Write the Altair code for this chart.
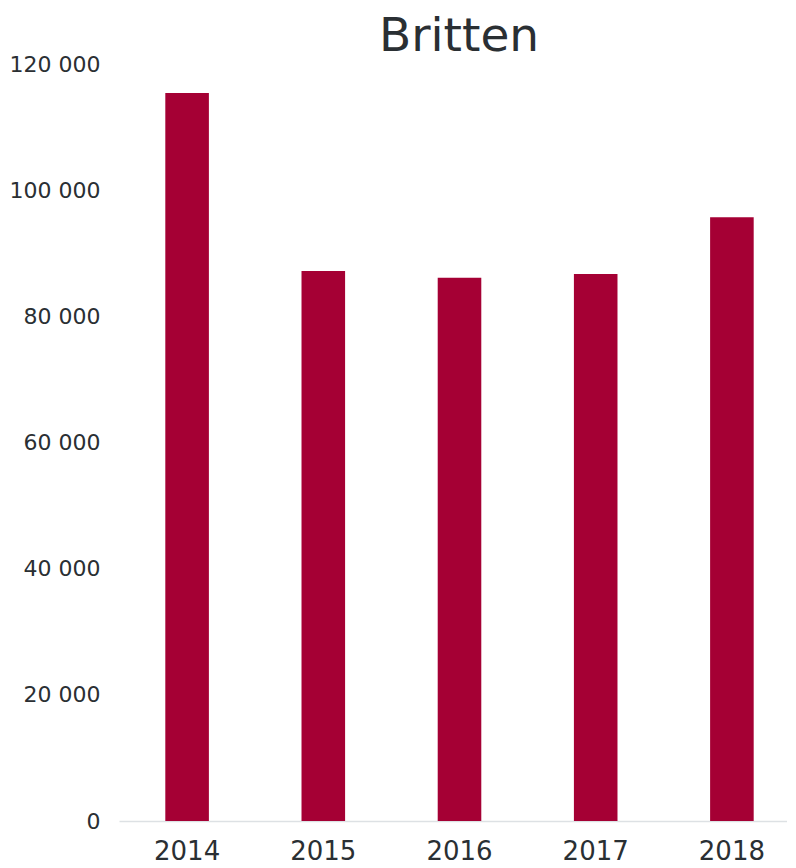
import altair as alt
import pandas as pd

years = ["2014", "2015", "2016", "2017", "2018"]
values = [115400, 87200, 86100, 86700, 95700]

df = pd.DataFrame({"year": years, "value": values})

text_color = "#2a2f33"

chart = alt.Chart(df).mark_bar(color="#A50034").encode(
    x=alt.X("year:N", sort=years, title=None,
            scale=alt.Scale(range=[0, 681], paddingInner=0.68, paddingOuter=0.34),
            axis=alt.Axis(labelAngle=0, labelFontSize=26, labelColor=text_color,
                          labelFont="DejaVu Sans", ticks=False, domainColor="#dde1e4",
                          domainWidth=1.5, labelPadding=17)),
    y=alt.Y("value:Q", title=None,
            scale=alt.Scale(domain=[0, 120000], nice=False),
            axis=alt.Axis(values=[0, 20000, 40000, 60000, 80000, 100000, 120000],
                          labelExpr="replace(format(datum.value, ','), ',', ' ')",
                          labelFontSize=22, labelColor=text_color, labelFont="DejaVu Sans",
                          ticks=False, domain=False, grid=False, labelPadding=19)),
).properties(
    width=668,
    height=757,
    title=alt.TitleParams("Britten", fontSize=47, font="DejaVu Sans", fontWeight="normal",
                          color=text_color, anchor="middle", dx=6, dy=14, offset=6),
    autosize=alt.AutoSizeParams(type="none"),
    padding={"left": 111, "top": 56, "right": 0, "bottom": 39},
).configure_view(stroke=None)

chart.save("out.html", embed_options={"renderer": "svg", "actions": False})
